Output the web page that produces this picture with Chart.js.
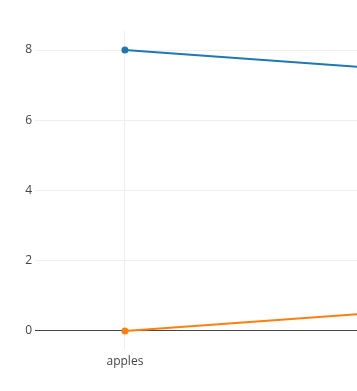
<!DOCTYPE html>
<html><head><meta charset="utf-8">
<script src="https://cdn.jsdelivr.net/npm/chart.js@4"></script>
<style>html,body{margin:0;padding:0;background:#fff;overflow:hidden}#wrap{width:357px;height:391px;overflow:hidden}</style>
</head><body><div id="wrap"><canvas id="c" width="361" height="391"></canvas></div>
<script>
const categories = ['apples', 'oranges'];
const seriesA = [8, 7];
const seriesB = [0, 1];
const yTicks = [0, 2, 4, 6, 8];

const toPts = arr => arr.map((v, i) => ({x: i, y: v}));
const txt = '#444';
const font = {family: '"Open Sans", verdana, arial, sans-serif', size: 12};

new Chart(document.getElementById('c'), {
  type: 'line',
  data: {
    datasets: [
      {data: toPts(seriesA), borderColor: '#1f77b4', backgroundColor: '#1f77b4', borderWidth: 2, pointRadius: 3.5, pointBorderWidth: 0, tension: 0},
      {data: toPts(seriesB), borderColor: '#ff7f0e', backgroundColor: '#ff7f0e', borderWidth: 2, pointRadius: 3.5, pointBorderWidth: 0, tension: 0}
    ]
  },
  options: {
    responsive: false,
    animation: false,
    layout: {padding: {top: 31, left: 0, right: 0, bottom: 0}},
    plugins: {legend: {display: false}, tooltip: {enabled: false}},
    scales: {
      x: {
        type: 'linear', min: -0.186, max: 0.48,
        afterBuildTicks: s => { s.ticks = categories.map((c, i) => ({value: i})).filter(t => t.value >= s.min && t.value <= s.max); },
        afterFit: s => { s.height = 41; },
        ticks: {color: txt, font: font, padding: 4, maxRotation: 0, autoSkip: false, callback: v => categories[v]},
        grid: {color: '#eee', lineWidth: 1, drawTicks: false},
        border: {display: false}
      },
      y: {
        type: 'linear', min: -0.541, max: 8.541,
        afterBuildTicks: s => { s.ticks = yTicks.map(v => ({value: v})); },
        afterFit: s => { s.width = 35; },
        ticks: {color: txt, font: font, padding: 3},
        grid: {color: c => c.tick && c.tick.value === 0 ? '#444' : '#eee', lineWidth: 1, drawTicks: false},
        border: {display: false}
      }
    }
  }
});
</script></body></html>
